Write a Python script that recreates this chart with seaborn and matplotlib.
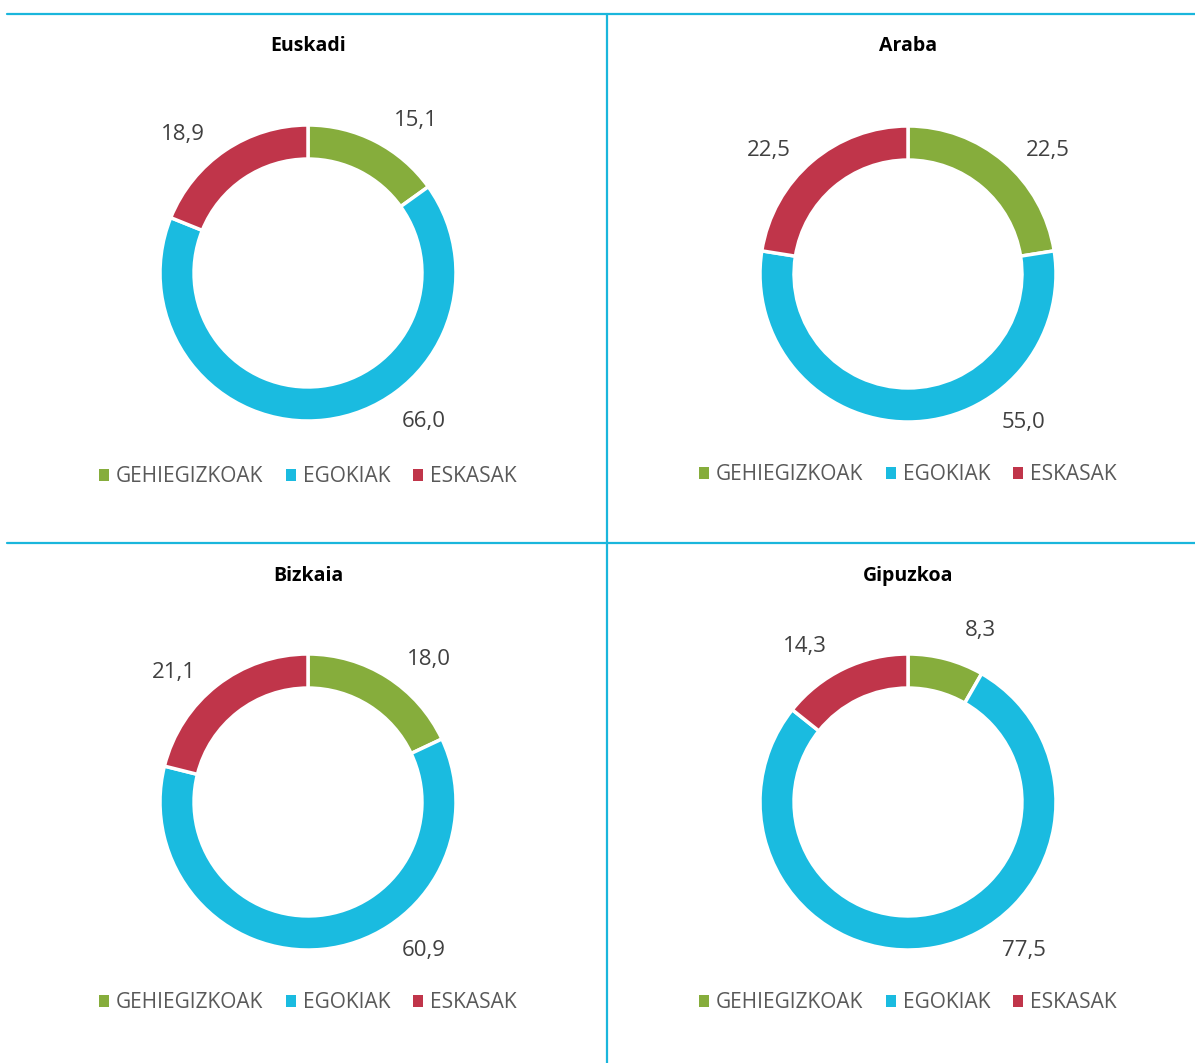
import matplotlib
matplotlib.use('Agg')
import matplotlib.pyplot as plt
import numpy as np
import seaborn as sns
from matplotlib.lines import Line2D
from matplotlib.patches import Patch

sns.set_theme(style='white')
plt.rcParams['font.family'] = ['Open Sans', 'DejaVu Sans']

# Data
regions = ['Euskadi', 'Araba', 'Bizkaia', 'Gipuzkoa']
categories = ['GEHIEGIZKOAK', 'EGOKIAK', 'ESKASAK']
gehiegizkoak = [15.1, 22.5, 18.0, 8.3]
egokiak = [66.0, 55.0, 60.9, 77.5]
eskasak = [18.9, 22.5, 21.1, 14.3]

colors = ['#86AD3C', '#1ABBE0', '#C0354A']
line_col = '#1AB6DC'

W, H = 1195, 1063
fig = plt.figure(figsize=(W / 100, H / 100), dpi=100)

# centres of the donuts (pixels from top-left) and layout
centres = [(308, 273), (908, 274), (308, 802), (908, 802)]
title_y = [46, 46, 576, 576]
legend_y = [477, 475, 1003, 1003]
R = 148
half = 200  # half size of each axes in px

for i, region in enumerate(regions):
    cx, cy = centres[i]
    ax = fig.add_axes([(cx - half) / W, 1 - (cy + half) / H, 2 * half / W, 2 * half / H])
    vals = [gehiegizkoak[i], egokiak[i], eskasak[i]]
    wedges, _ = ax.pie(vals, colors=colors, startangle=90, counterclock=False, radius=1.0,
                       wedgeprops=dict(width=0.23, edgecolor='white', linewidth=2.5))
    # data labels outside the ring (roughly Excel's "best fit")
    for j, w in enumerate(wedges):
        ang = (w.theta1 + w.theta2) / 2
        dist = 1.26
        if vals[j] == max(vals):
            ang = -52
            dist = 1.27
        elif np.cos(np.radians(ang)) > 0:
            ang -= 8
        else:
            ang += 8
        x = dist * np.cos(np.radians(ang))
        y = dist * np.sin(np.radians(ang))
        ax.text(x, y, f'{vals[j]:.1f}'.replace('.', ','), ha='center', va='center',
                fontsize=16, color='#404040')
    lim = half / R
    ax.set_xlim(-lim, lim)
    ax.set_ylim(-lim, lim)
    ax.set_aspect('equal')
    ax.axis('off')

    fig.text(cx / W, 1 - title_y[i] / H, region, ha='center', va='center',
             fontsize=14, fontweight='bold', color='black')

    handles = [Patch(facecolor=c, edgecolor='none') for c in colors]
    fig.legend(handles, categories, loc='center', ncol=3,
               bbox_to_anchor=(cx / W, 1 - legend_y[i] / H), frameon=False,
               fontsize=15, labelcolor='#595959', handlelength=0.45, handleheight=0.45,
               handletextpad=0.35, columnspacing=1.1)

# separator lines
lw = 1.6
fig.add_artist(Line2D([7 / W, 1], [1 - 14 / H, 1 - 14 / H], color=line_col, lw=lw))
fig.add_artist(Line2D([7 / W, 1], [1 - 543 / H, 1 - 543 / H], color=line_col, lw=lw))
fig.add_artist(Line2D([607 / W, 607 / W], [0, 1 - 14 / H], color=line_col, lw=lw))

fig.savefig('out.png', dpi=100)
